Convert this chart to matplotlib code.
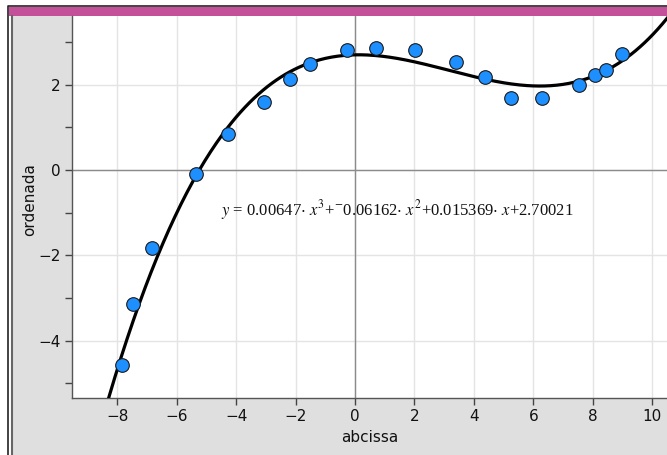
import numpy as np
import matplotlib
matplotlib.use("Agg")
import matplotlib.pyplot as plt
from matplotlib.patches import Rectangle
from matplotlib.lines import Line2D

# data
abcissa = [-7.84, -7.47, -6.83, -5.35, -4.27, -3.06, -2.19, -1.51, -0.27, 0.71,
           2.02, 3.40, 4.37, 5.25, 6.29, 7.54, 8.08, 8.45, 8.98]
ordenada = [-4.58, -3.15, -1.83, -0.09, 0.84, 1.59, 2.13, 2.49, 2.81, 2.86,
            2.81, 2.54, 2.19, 1.69, 1.69, 1.99, 2.23, 2.35, 2.72]
# cubic regression shown on the graph
coefs = [0.00647, -0.06162, 0.015369, 2.70021]
x_ticks = [-8, -6, -4, -2, 0, 2, 4, 6, 8, 10]
y_ticks = [-4, -2, 0, 2]
y_minor = [-5, -3, -1, 1, 3]

W, H = 667, 455
fig = plt.figure(figsize=(W / 100, H / 100), dpi=100)
fig.patch.set_facecolor("white")

def fx(px):
    return px / W

def fy(py):
    return 1 - py / H

# frame, magenta header, gray panel
fig.add_artist(Rectangle((fx(11), 0), 1, fy(16), transform=fig.transFigure,
                         facecolor="#dfdfdf", edgecolor="none", zorder=0))
fig.add_artist(Rectangle((fx(9), fy(16)), 1, fy(7) - fy(16), transform=fig.transFigure,
                         facecolor="#c4509a", edgecolor="none", zorder=0))
fig.add_artist(Line2D([fx(8), fx(8), 1], [0, fy(6), fy(6)], transform=fig.transFigure,
                      color="#222222", lw=1.2))
fig.add_artist(Line2D([fx(11.5), fx(11.5)], [0, fy(16)], transform=fig.transFigure,
                      color="#666666", lw=1.5))

ax = fig.add_axes([fx(72), 1 - 398 / H, 1 - fx(72), (398 - 16) / H])
ax.set_facecolor("white")
xmin, xmax = (72 - 355) / 29.72, (667 - 355) / 29.72
ymin, ymax = -(398 - 170) / 42.65, (170 - 16) / 42.65
ax.set_xlim(xmin, xmax)
ax.set_ylim(ymin, ymax)

for t in x_ticks:
    ax.axvline(t, color="#e4e4e4", lw=1, zorder=0)
for t in y_ticks:
    ax.axhline(t, color="#e4e4e4", lw=1, zorder=0)
ax.axhline(0, color="#8c8c8c", lw=1, zorder=1)
ax.axvline(0, color="#8c8c8c", lw=1, zorder=1)

xs = np.linspace(xmin, xmax, 400)
ax.plot(xs, np.polyval(coefs, xs), color="black", lw=2.3, zorder=3)
ax.plot(abcissa, ordenada, "o", ms=9.8, mfc="#1e8fff", mec="#1a1a1a", mew=0.8, zorder=4)

ax.set_xticks(x_ticks)
ax.set_xticklabels([str(t).replace("-", "\u2212") for t in x_ticks])
ax.set_yticks(y_ticks)
ax.set_yticklabels([str(t).replace("-", "\u2212") for t in y_ticks])
ax.set_yticks(y_minor, minor=True)
ax.tick_params(axis="both", which="both", length=5, width=1, color="#444444",
               labelsize=11, labelcolor="#111111", pad=3)
ax.tick_params(axis="x", which="minor", length=0)
for s in ["top", "right"]:
    ax.spines[s].set_visible(False)
for s in ["left", "bottom"]:
    ax.spines[s].set_color("#555555")
    ax.spines[s].set_linewidth(1)

fig.text(fx(370), fy(438), "abcissa", ha="center", va="center", fontsize=11, color="#111111")
fig.text(fx(30), fy(200), "ordenada", ha="center", va="center", rotation=90,
         fontsize=11, color="#111111")

plt.rcParams["mathtext.fontset"] = "stix"
eq = (r"$y$ = 0.00647$\cdot$ $x^3$+$^{-}$0.06162$\cdot$ $x^2$"
      r"+0.015369$\cdot$ $x$+2.70021")
ax.text((221 - 355) / 29.72, (170 - 215) / 42.65, eq, family="Liberation Serif",
        fontsize=12, ha="left", va="baseline", color="#111111", zorder=5)

fig.savefig("out.png", dpi=100)
